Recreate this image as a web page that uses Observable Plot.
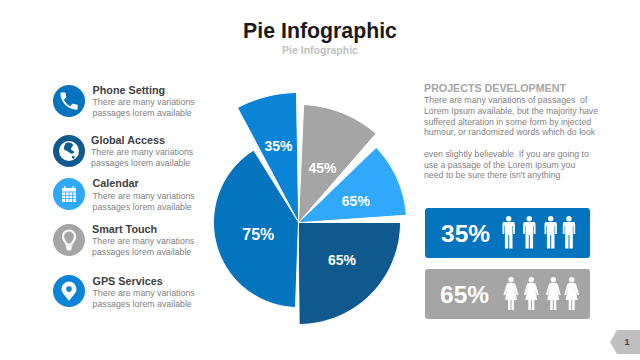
<!DOCTYPE html>
<html><head><meta charset="utf-8">
<script src="https://cdn.jsdelivr.net/npm/d3@7"></script>
<script src="https://cdn.jsdelivr.net/npm/@observablehq/plot@0.6"></script>
<style>
html,body{margin:0;padding:0;background:#fff}
#page{position:relative;width:640px;height:360px;overflow:hidden;font-family:"Liberation Sans",Arial,sans-serif}
#page div.t{position:absolute;white-space:pre;line-height:1}
#page svg.ic{position:absolute}
#chart{position:absolute;left:200px;top:85px}
.box{position:absolute;border-radius:3px}
</style></head><body>
<div id="page"><div id="chart"></div></div>
<script>
// Pie slices: clockwise angles from 12 o'clock, radius in chart units
const sliceLabels = ["35%","45%","65%","65%","75%"];
const sliceStart  = [-28, 2.5, 46, 90, 182];
const sliceEnd    = [-1, 41, 86, 179.5, 328];
const sliceRadius = [130, 118, 108, 102, 85];
const labelAngle  = [-14.7, 24, 70, 131.5, 253];
const labelRadius = [78.6, 59, 61, 58, 42];
const labelSize   = [14, 14, 14, 14, 16];
const sliceColors = ["#0a84d6","#a5a5a5","#30a8fb","#0e5a8e","#0474bf"];

const featureTitles = ["Phone Setting","Global Access","Calendar","Smart Touch","GPS Services"];
const featureLine1 = "There are many variations";
const featureLine2 = "passages lorem available";
const paragraph = ["There are many variations of passages  of","Lorem Ipsum available, but the majority have","suffered alteration in some form by injected","humour, or randomized words which do look","","even slightly believable  If you are going to","use a passage of the Lorem Ipsum you","need to be sure there isn't anything"];

const page = document.getElementById("page");
function text(str,x,cy,size,color,bold,align){
  const d=document.createElement("div");d.className="t";d.textContent=str;
  d.style.fontSize=size+"px";d.style.color=color;d.style.fontWeight=bold?"700":"400";
  d.style.top=(cy-size/2)+"px";
  if(align==="center"){d.style.left=(x-200)+"px";d.style.width="400px";d.style.textAlign="center";}
  else d.style.left=x+"px";
  page.appendChild(d);
}
function svg(inner,x,y,w,h,vb){
  const s=`<svg class="ic" xmlns="http://www.w3.org/2000/svg" style="left:${x}px;top:${y}px" width="${w}" height="${h}" viewBox="${vb||`0 0 ${w} ${h}`}">${inner}</svg>`;
  page.insertAdjacentHTML("beforeend",s);
}

text("Pie Infographic",320,31.5,21.3,"#1a1a1a",true,"center");
text("Pie Infographic",320,50.5,10.5,"#bfbfbf",true,"center");

// Feature list
const rows=[
 {cy:100.7,color:"#0474bf",tx:92.5,ty:[90,102,113]},
 {cy:150.7,color:"#0e5a8e",tx:91,ty:[140,152,163]},
 {cy:194,color:"#30a8fb",tx:92.5,ty:[183,196,207]},
 {cy:240,color:"#a5a5a5",tx:92,ty:[229,241.5,252.5]},
 {cy:291,color:"#0a84d6",tx:92.5,ty:[281,293,304]}
];
const icons=[
 c=>`<g transform="translate(4.5,4.5) scale(.96)"><path fill="#fff" d="M6.62 10.79c1.44 2.83 3.76 5.14 6.59 6.59l2.2-2.2c.27-.27.67-.36 1.02-.24 1.12.37 2.33.57 3.57.57.55 0 1 .45 1 1V20c0 .55-.45 1-1 1-9.39 0-17-7.61-17-17 0-.55.45-1 1-1h3.5c.55 0 1 .45 1 1 0 1.25.2 2.45.57 3.57.11.35.03.74-.25 1.02l-2.2 2.2z"/></g>`,
 c=>`<circle cx="16" cy="16" r="10" fill="#fff"/><path fill="${c}" d="M13 8c3-1 7 0 7 2 0 2-2 2-2 4s3 1 3 3-3 2-4 1-3-2-5-3-1-4 1-7zM19 21l3 .5-1 2.5-2-1z"/>`,
 c=>`<g fill="#fff"><rect x="9" y="10" width="14" height="3.5"/><rect x="11" y="8" width="1.5" height="3"/><rect x="19.5" y="8" width="1.5" height="3"/><path fill-rule="evenodd" d="M9 14.5h14V24H9z"/></g><g stroke="${c}" stroke-width=".8"><path d="M9 17.5h14M9 20.5h14M12.5 14.5V24M16 14.5V24M19.5 14.5V24"/></g>`,
 c=>`<path fill="none" stroke="#fff" stroke-width="2.2" d="M13.5 20.5c0-2-3.5-3.5-3.5-8a6 6 0 0 1 12 0c0 4.500-3.500 6-3.500 8z"/><path fill="#fff" d="M13 21.500h6V24l-1.500 2.500h-3L13 24z"/>`,
 c=>`<path fill="#fff" fill-rule="evenodd" d="M16 6.500a7.500 7.500 0 0 0-7.500 7.500c0 4.500 4.500 7 7.500 12 3-5 7.500-7.500 7.500-12A7.500 7.500 0 0 0 16 6.500zm0 4.800a2.800 2.800 0 1 1 0 5.600 2.800 2.800 0 0 1 0-5.600z"/>`
];
rows.forEach((r,i)=>{
  svg(`<circle cx="16" cy="16" r="16" fill="${r.color}"/>`+icons[i](r.color),53,r.cy-16,32,32);
  text(featureTitles[i],r.tx,r.ty[0],10.8,"#404040",true);
  text(featureLine1,r.tx,r.ty[1],8.8,"#7f7f7f",false);
  text(featureLine2,r.tx,r.ty[2],8.8,"#7f7f7f",false);
});

// Right text
text("PROJECTS DEVELOPMENT",424,88,10.7,"#a6a6a6",true);
const pY=[100,111,122,132.5,0,154,165,175];
paragraph.forEach((l,i)=>{ if(l) text(l,424,pY[i],8.75,"#7f7f7f",false); });

// Stat boxes
const statValues=["35%","65%"];
const statColors=["#0474bf","#a5a5a5"];
const man='<circle cx="0" cy="2.8" r="2.7"/><path d="M-4.5 6H4.500Q6.200 6 6.200 8V18H4.400V10H3.800V32.500H.5V19H-.5V32.500H-3.800V10H-4.400V18H-6.200V8Q-6.200 6-4.500 6Z"/>';
const woman='<circle cx="0" cy="2.800" r="2.700"/><path d="M-2.500 6H2.500Q4 6 4.700 8L7.500 18H5.500L3.500 11 6 23H3V33H.5V23H-.5V33H-3V23H-6L-3.500 11-5.500 18H-7.500L-4.700 8Q-4 6-2.500 6Z"/>';
[[208,441,[508.7,529.3,550.7,569],man,216],[269,440,[511,531.3,553.3,571.7],woman,277]].forEach(([top,tx,xs,fig,fy],i)=>{
  const b=document.createElement("div");b.className="box";
  b.style.cssText=`left:425px;top:${top}px;width:164.500px;height:49.500px;background:${statColors[i]}`;
  page.appendChild(b);
  text(statValues[i],tx,top+26,24.5,"#fff",true);
  svg(`<g fill="#fff">`+xs.map(x=>`<g transform="translate(${x-420},${fy-top})">${fig}</g>`).join("")+`</g>`,420,top,170,50);
});

// Page tag
svg('<path fill="#bfbfbf" d="M7 0H30V24H7L0 12Z"/>',610,330,30,24);
text("1",627,342,9,"#404040",true,"center");

// Pie drawn with Plot
const rad=d=>d*Math.PI/180;
const outline=sliceLabels.flatMap((_,i)=>{
  const a=sliceStart[i],b=sliceEnd[i],r=sliceRadius[i];
  const arc=d3.range(a,b,1).concat(b).map(t=>({k:i,c:sliceColors[i],x:r*Math.sin(rad(t)),y:r*Math.cos(rad(t))}));
  return [{k:i,c:sliceColors[i],x:0,y:0},...arc];
});
const labels=sliceLabels.map((s,i)=>{
  const m=rad(labelAngle[i]),r=labelRadius[i];
  return {s,size:labelSize[i],x:r*Math.sin(m),y:r*Math.cos(m)};
});
document.getElementById("chart").appendChild(Plot.plot({
  width:220,height:250,margin:0,
  x:{domain:[-98,122],axis:null},
  y:{domain:[-113,137],axis:null},
  marks:[
    Plot.line(outline,{x:"x",y:"y",z:"k",fill:"c",stroke:"#fff",strokeWidth:1,curve:"linear-closed"}),
    Plot.text(labels.filter(d=>d.size===14),{x:"x",y:"y",text:"s",fill:"#fff",fontWeight:"bold",fontSize:14,fontFamily:"Liberation Sans"}),
    Plot.text(labels.filter(d=>d.size===16),{x:"x",y:"y",text:"s",fill:"#fff",fontWeight:"bold",fontSize:16,fontFamily:"Liberation Sans"})
  ],
  style:{background:"transparent",overflow:"visible"}
}));
</script>
</body></html>
